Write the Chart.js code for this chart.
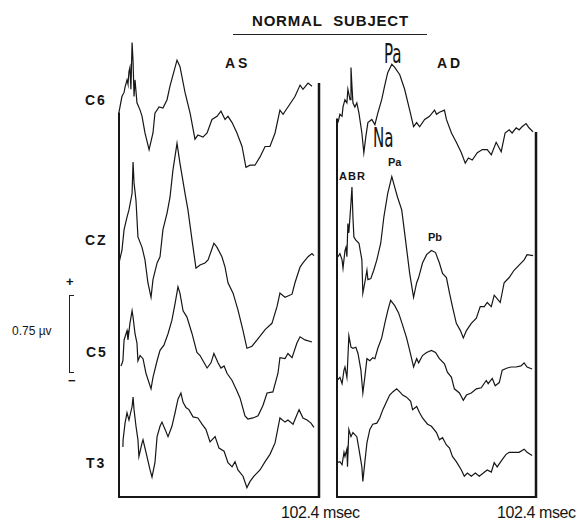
<!DOCTYPE html>
<html>
<head>
<meta charset="utf-8">
<script src="https://cdn.jsdelivr.net/npm/chart.js@4.4.1/dist/chart.umd.min.js"></script>
<style>
  body { margin: 0; width: 581px; height: 520px; background: #fff; position: relative; overflow: hidden;
         font-family: "Liberation Sans", Arial, sans-serif; color: #151515; }
  canvas { position: absolute; }
  .t { position: absolute; white-space: nowrap; line-height: 1; }
  .b { font-weight: bold; }
  .big { font-family: "DejaVu Sans Condensed", "DejaVu Sans", sans-serif; font-size: 27px; transform: scaleX(0.62); transform-origin: left top; }
</style>
</head>
<body>
<div class="t b" style="left:252px;top:13px;font-size:15px;letter-spacing:0.8px;word-spacing:6px">NORMAL SUBJECT</div>
<div style="position:absolute;left:233px;top:34px;width:194px;height:1px;background:#222"></div>
<div class="t b" style="left:225px;top:56px;font-size:14px;letter-spacing:3px">AS</div>
<div class="t b" style="left:437px;top:56px;font-size:14px;letter-spacing:3px">AD</div>

<div class="t b" style="left:85px;top:93px;font-size:14px;letter-spacing:2px">C6</div>
<div class="t b" style="left:85px;top:233px;font-size:14px;letter-spacing:2px">CZ</div>
<div class="t b" style="left:86px;top:345px;font-size:14px;letter-spacing:2px">C5</div>
<div class="t b" style="left:86px;top:456px;font-size:14px;letter-spacing:2px">T3</div>

<div class="t" style="left:66px;top:275px;font-size:13px;font-weight:bold">+</div>
<div style="position:absolute;left:69px;top:295px;width:5px;height:78px;border:1px solid #222;border-right:none;box-sizing:border-box"></div>
<div class="t" style="left:68px;top:374px;font-size:13px;font-weight:bold">−</div>
<div class="t" style="left:12px;top:325px;font-size:12px">0.75 µv</div>

<div class="t" style="left:281px;top:505px;font-size:16px;letter-spacing:-0.4px">102.4 msec</div>
<div class="t" style="left:497px;top:505px;font-size:16px;letter-spacing:-0.4px">102.4 msec</div>

<div class="t big" style="left:384px;top:40px">Pa</div>
<div class="t big" style="left:373px;top:124px">Na</div>
<div class="t b" style="left:339px;top:171px;font-size:11px;letter-spacing:1px">ABR</div>
<div class="t b" style="left:388px;top:157px;font-size:11px">Pa</div>
<div class="t b" style="left:428px;top:232px;font-size:11px">Pb</div>

<canvas id="asChart" width="208" height="475" style="left:115px;top:26px"></canvas>
<canvas id="adChart" width="207" height="475" style="left:333px;top:26px"></canvas>

<script>
// ---------- DATA: [time ms, amplitude µV] ----------
const sweepMs = 102.4;
const channels = ["C6", "CZ", "C5", "T3"];

// left ear stimulation (AS)
const asC6 = [[0,-0.12],[1.5,0.03],[2.6,0.07],[3.1,0.12],[4.1,0.19],[4.6,0.15],[5.1,0.27],[5.6,0.31],[6.1,0.10],[6.7,0.55],
  [7.2,0.37],[7.7,0.03],[8.2,0.19],[9.2,-0.03],[10.8,-0.10],[11.8,-0.16],[13.3,-0.32],[15.4,-0.48],[17.4,-0.32],[18.4,-0.13],
  [20.5,-0.07],[22.5,-0.08],[24.6,0],[26.1,0.13],[29.7,0.38],[31.2,0.32],[33.8,0.07],[36.4,-0.13],[38.9,-0.38],[40.4,-0.34],
  [43.0,-0.36],[45.1,-0.32],[47.6,-0.19],[50.2,-0.16],[52.2,-0.11],[54.3,-0.19],[55.8,-0.16],[57.9,-0.22],[60.4,-0.32],[63.0,-0.45],
  [65.0,-0.65],[67.1,-0.63],[69.6,-0.63],[72.2,-0.55],[74.8,-0.45],[77.3,-0.45],[79.9,-0.32],[82.4,-0.10],[84.0,-0.14],[86.5,-0.07],
  [90.1,0.03],[92.7,0.14],[94.2,0.10],[96.8,0.16],[98.8,0.13]];
const asCZ = [[0,-0.22],[1.5,-0.10],[2.6,0.10],[4.1,0.22],[5.1,0.29],[6.7,0.45],[7.2,0.75],[7.7,0.55],[8.7,0.38],[9.7,0.03],
  [11.8,-0.07],[13.3,-0.19],[14.8,-0.41],[16.4,-0.55],[17.4,-0.38],[19.5,-0.22],[21.0,-0.16],[22.5,0.10],[24.6,0.26],[26.1,0.41],
  [27.6,0.67],[29.7,0.93],[31.2,0.74],[33.8,0.45],[35.3,0.29],[37.4,0],[39.4,-0.27],[41.5,-0.24],[44.0,-0.22],[45.6,-0.19],
  [48.6,-0.03],[50.2,-0.07],[52.7,-0.16],[54.3,-0.26],[55.8,-0.41],[58.4,-0.51],[60.9,-0.67],[63.5,-0.87],[65.5,-1.04],[68.1,-1.02],
  [70.7,-0.96],[74.8,-0.86],[78.3,-0.80],[80.9,-0.64],[82.4,-0.51],[85.0,-0.55],[88.6,-0.52],[90.1,-0.41],[92.7,-0.26],[94.2,-0.22],
  [96.8,-0.16],[98.8,-0.13],[99.8,-0.15]];
const asC5 = [[1.0,-0.13],[1.5,-0.11],[2.0,-0.08],[2.6,0.12],[4.1,0.21],[4.6,0.12],[5.6,0.28],[6.7,0.40],[7.2,0.34],[8.2,0.18],
  [9.2,0.09],[9.7,-0.08],[10.8,-0.03],[12.3,-0.06],[13.8,-0.20],[16.4,-0.35],[17.4,-0.24],[19.5,-0.08],[21.0,0.02],[23.0,0.07],
  [25.1,0.18],[27.1,0.31],[28.7,0.47],[30.2,0.63],[31.2,0.57],[32.8,0.40],[34.8,0.34],[37.4,0.18],[39.9,0],[41.5,-0.03],
  [43.0,-0.08],[45.1,-0.15],[47.1,-0.10],[48.6,-0.01],[50.7,-0.10],[52.2,-0.15],[53.8,-0.13],[55.3,-0.20],[57.9,-0.27],[60.4,-0.37],
  [62.0,-0.44],[64.5,-0.61],[66.0,-0.64],[68.6,-0.63],[71.2,-0.61],[73.7,-0.51],[75.8,-0.39],[78.8,-0.38],[81.4,-0.20],[82.4,-0.05],
  [85.0,-0.06],[86.5,-0.01],[88.6,-0.05],[91.1,0.09],[92.7,0.15],[95.2,0.12],[98.8,0.10]];
const asT3 = [[2.0,0.15],[2.1,0.22],[3.1,0.38],[4.1,0.48],[5.1,0.41],[6.7,0.54],[7.2,0.63],[7.7,0.51],[8.7,0.35],[9.7,0.22],
  [10.2,0.06],[11.8,0.19],[12.3,0.22],[14.3,0.06],[15.9,-0.07],[16.9,-0.14],[18.4,0],[19.5,0.25],[21.0,0.35],[22.0,0.39],
  [23.6,0.32],[25.1,0.25],[27.1,0.35],[28.7,0.48],[30.2,0.61],[31.7,0.67],[32.8,0.58],[34.3,0.53],[35.8,0.51],[37.9,0.44],
  [40.4,0.43],[42.5,0.37],[44.5,0.32],[46.6,0.20],[49.2,0.25],[51.2,0.14],[53.8,0.11],[55.8,0],[57.9,-0.04],[59.4,0.01],
  [60.9,-0.07],[63.5,-0.13],[65.5,-0.24],[67.1,-0.18],[69.1,-0.13],[72.2,-0.07],[74.8,0.01],[77.3,0.08],[79.9,0.19],[82.4,0.43],
  [85.0,0.39],[86.5,0.41],[89.1,0.37],[91.1,0.46],[92.2,0.51],[94.2,0.43],[96.3,0.41],[98.3,0.38],[99.8,0.34]];

// right ear stimulation (AD)
const adC6 = [[0.5,-0.22],[1.5,-0.14],[2.6,-0.16],[3.1,-0.07],[4.1,0],[5.1,-0.03],[5.6,0.10],[6.7,0],[7.2,0.31],[7.7,0.13],
  [8.2,-0.03],[9.2,-0.07],[10.2,-0.03],[11.3,-0.13],[12.8,-0.32],[13.8,-0.51],[14.8,-0.36],[15.9,-0.22],[17.9,-0.19],[19.5,-0.24],
  [21.0,-0.13],[23.0,0],[24.6,0.14],[26.1,0.26],[28.2,0.34],[29.7,0.31],[32.3,0.24],[34.8,0.10],[37.4,-0.10],[39.4,-0.26],
  [41.0,-0.22],[42.5,-0.26],[45.1,-0.19],[47.6,-0.16],[50.2,-0.10],[51.2,-0.14],[52.7,-0.12],[55.3,-0.10],[56.3,-0.19],[58.9,-0.32],
  [61.4,-0.41],[64.0,-0.51],[66.0,-0.61],[67.6,-0.56],[69.6,-0.58],[72.2,-0.51],[74.8,-0.48],[77.3,-0.48],[79.4,-0.53],[81.9,-0.41],
  [84.5,-0.50],[86.5,-0.32],[88.6,-0.29],[90.1,-0.32],[92.2,-0.27],[93.7,-0.29],[95.2,-0.26],[97.3,-0.23],[98.8,-0.27],[100.9,-0.31]];
const adCZ = [[0.5,-0.16],[1.5,-0.13],[2.6,-0.19],[3.1,-0.27],[4.1,-0.10],[4.6,-0.07],[5.1,-0.16],[5.6,0.16],[6.1,0.07],[7.2,0.36],
  [7.7,0.51],[8.2,0.22],[8.7,0.03],[9.7,0],[11.3,-0.03],[12.8,-0.19],[13.3,-0.51],[14.3,-0.41],[15.4,-0.29],[15.9,-0.38],
  [17.4,-0.37],[18.9,-0.29],[20.5,-0.19],[22.5,-0.03],[24.1,0.22],[26.1,0.45],[28.2,0.61],[29.7,0.51],[31.2,0.41],[33.3,0.29],
  [34.8,0.07],[37.4,-0.32],[39.4,-0.55],[41.0,-0.41],[42.0,-0.36],[44.0,-0.22],[46.1,-0.14],[48.6,-0.10],[50.7,-0.12],[52.7,-0.22],
  [54.3,-0.32],[56.3,-0.36],[57.9,-0.51],[59.4,-0.64],[61.4,-0.80],[63.5,-0.87],[65.0,-0.94],[66.6,-0.87],[69.1,-0.80],[71.7,-0.75],
  [73.7,-0.64],[75.8,-0.64],[77.3,-0.60],[79.4,-0.64],[80.9,-0.53],[84.0,-0.60],[86.0,-0.41],[88.6,-0.36],[91.1,-0.29],[93.7,-0.24],
  [96.3,-0.19],[97.8,-0.14],[100.9,-0.15]];
const adC5 = [[0,-0.27],[1.5,-0.24],[2.6,-0.30],[3.6,-0.17],[4.1,-0.14],[5.1,-0.24],[5.4,-0.14],[6.1,0.16],[7.2,0.05],[8.2,0.04],
  [9.7,0.05],[10.8,-0.01],[12.3,-0.17],[13.3,-0.39],[14.3,-0.24],[15.4,-0.06],[16.9,-0.08],[18.4,-0.05],[19.5,-0.06],[21.0,0.04],
  [23.0,0.14],[24.6,0.28],[26.1,0.40],[27.6,0.50],[29.7,0.45],[31.7,0.38],[33.8,0.26],[35.8,0.14],[37.4,0.02],[39.4,-0.14],
  [41.0,-0.06],[42.0,-0.10],[44.0,-0.03],[46.1,0],[48.6,0.02],[50.7,0],[52.7,-0.06],[55.3,-0.11],[56.8,-0.19],[58.9,-0.24],
  [60.4,-0.35],[63.0,-0.39],[65.0,-0.46],[66.6,-0.41],[69.1,-0.39],[71.7,-0.35],[74.2,-0.34],[76.8,-0.27],[77.8,-0.30],[79.9,-0.25],
  [81.4,-0.32],[83.5,-0.29],[85.0,-0.17],[87.6,-0.15],[89.6,-0.14],[92.2,-0.14],[94.7,-0.13],[96.3,-0.10],[97.8,-0.14],[100.4,-0.16]];
const adT3 = [[0,0],[1.5,0.01],[2.6,-0.02],[3.6,0.10],[4.1,0.06],[5.1,0.13],[5.4,-0.04],[6.1,0.32],[7.2,0.25],[8.2,0.29],
  [10.2,0.25],[11.3,0.13],[12.8,-0.04],[13.3,-0.18],[14.3,0],[15.4,0.19],[16.9,0.32],[18.4,0.37],[20.5,0.38],[22.0,0.43],
  [23.6,0.51],[25.6,0.59],[27.1,0.65],[28.7,0.68],[30.7,0.71],[32.3,0.68],[33.8,0.65],[35.8,0.63],[37.9,0.59],[38.9,0.51],
  [41.0,0.54],[42.5,0.48],[44.0,0.43],[46.6,0.37],[48.6,0.35],[51.2,0.29],[52.7,0.22],[54.3,0.24],[56.3,0.17],[57.9,0.14],
  [59.4,0.06],[61.4,0.01],[64.0,-0.07],[65.5,-0.13],[67.1,-0.10],[69.1,-0.13],[71.2,-0.10],[73.2,-0.13],[75.3,-0.10],[77.3,-0.07],
  [79.4,-0.09],[80.9,0],[82.4,-0.04],[85.0,0.03],[87.0,0.08],[88.6,0.10],[91.1,0.10],[93.7,0.10],[96.3,0.13],[97.8,0.10],[100.4,0.07]];

// ---------- LAYOUT ----------
const yTop = 4.49;                       // µV range shown in each panel
const rowBase = [3.82, 2.47, 1.39, 0.33]; // vertical stacking of C6, CZ, C5, T3
const ink = "#161616";

// panel frame: heights (µV) where the left / right border lines start
function framePlugin(leftTop, rightTop) {
  return {
    id: "frame",
    afterDatasetsDraw(chart) {
      const { ctx, scales: { x, y } } = chart;
      const x0 = x.getPixelForValue(0), x1 = x.getPixelForValue(sweepMs);
      const yb = y.getPixelForValue(0);
      ctx.save();
      ctx.strokeStyle = ink;
      ctx.lineWidth = 2;
      ctx.beginPath();
      ctx.moveTo(x0, y.getPixelForValue(leftTop));
      ctx.lineTo(x0, yb);
      ctx.lineTo(x1, yb);
      ctx.stroke();
      ctx.lineWidth = 2.5;
      ctx.beginPath();
      ctx.moveTo(x1, y.getPixelForValue(rightTop));
      ctx.lineTo(x1, yb + 1);
      ctx.stroke();
      ctx.restore();
    }
  };
}

function drawPanel(id, traces, leftTop, rightTop) {
  new Chart(document.getElementById(id), {
    type: "line",
    data: {
      datasets: traces.map((tr, i) => ({
        label: channels[i],
        data: tr.map(([t, v]) => ({ x: t, y: v + rowBase[i] })),
        borderColor: ink,
        borderWidth: 1.2,
        pointRadius: 0,
        tension: 0,
        clip: false
      }))
    },
    options: {
      responsive: false,
      animation: false,
      devicePixelRatio: 1,
      layout: { padding: 4 },
      scales: {
        x: { type: "linear", min: 0, max: sweepMs, display: false },
        y: { min: 0, max: yTop, display: false }
      },
      plugins: { legend: { display: false }, tooltip: { enabled: false } }
    },
    plugins: [framePlugin(leftTop, rightTop)]
  });
}

drawPanel("asChart", [asC6, asCZ, asC5, asT3], 3.70, 3.98);
drawPanel("adChart", [adC6, adCZ, adC5, adT3], 3.64, 3.51);
</script>
</body>
</html>
